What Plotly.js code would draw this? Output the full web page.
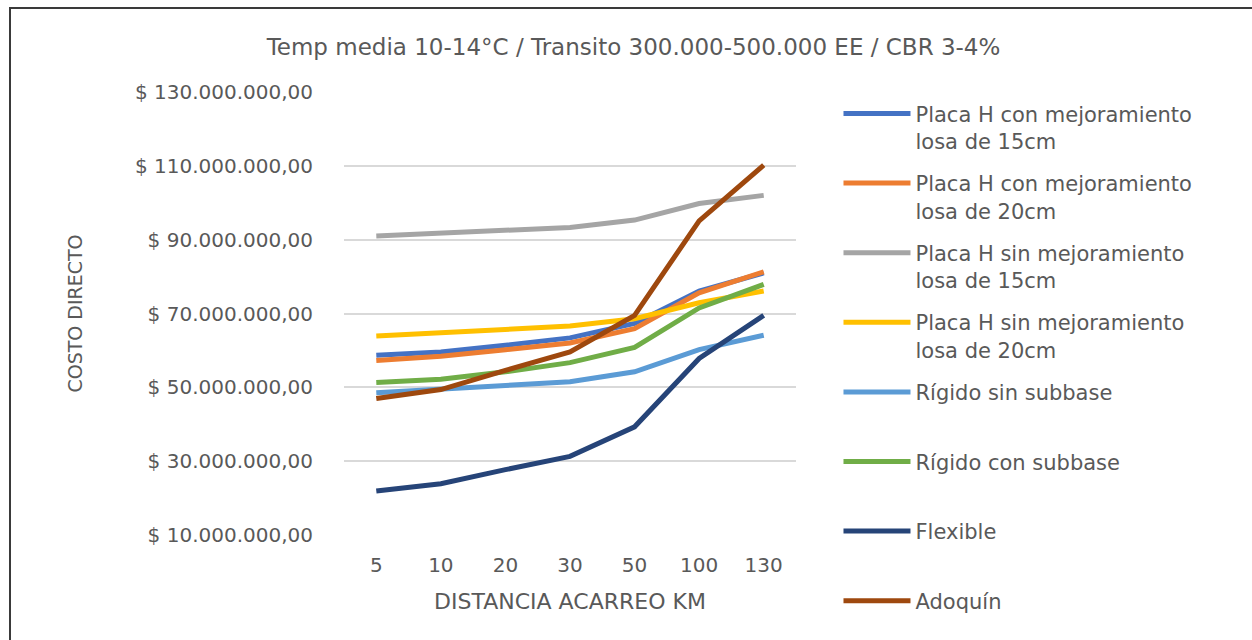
<!DOCTYPE html>
<html>
<head>
<meta charset="utf-8">
<script src="https://cdn.plot.ly/plotly-3.0.1.min.js"></script>
<style>
  html, body { margin: 0; padding: 0; background: #ffffff; }
  #wrap { position: relative; width: 1252px; height: 640px; }
  #chart { position: absolute; left: 0; top: 0; width: 1252px; height: 640px; }
  #frame { position: absolute; left: 9px; top: 7px; right: 0; bottom: 0;
           border-left: 2px solid #3a3a3a; border-top: 2px solid #3a3a3a;
           pointer-events: none; }
</style>
</head>
<body>
<div id="wrap">
  <div id="chart"></div>
  <div id="frame"></div>
</div>
<script>
// ---- data ----
const distances = ['5', '10', '20', '30', '50', '100', '130'];

const placaHCon15   = [58.7e6, 59.6e6, 61.4e6, 63.4e6, 67.3e6, 76.1e6, 81.0e6];
const placaHCon20   = [57.3e6, 58.4e6, 60.2e6, 62.0e6, 65.9e6, 75.6e6, 81.3e6];
const placaHSin15   = [91.0e6, 91.7e6, 92.4e6, 93.3e6, 95.3e6, 99.8e6, 102.0e6];
const placaHSin20   = [63.9e6, 64.8e6, 65.7e6, 66.6e6, 68.6e6, 72.9e6, 76.1e6];
const rigidoSinSub  = [48.5e6, 49.5e6, 50.8e6, 51.5e6, 54.2e6, 60.2e6, 64.1e6];
const rigidoConSub  = [51.3e6, 52.2e6, 54.2e6, 56.7e6, 60.8e6, 71.5e6, 77.9e6];
const flexible      = [21.9e6, 23.9e6, 27.7e6, 31.3e6, 39.3e6, 57.8e6, 69.5e6];
const adoquin       = [47.0e6, 49.4e6, 54.6e6, 59.6e6, 69.5e6, 95.1e6, 110.2e6];

const seriesNames = [
  'Placa H con mejoramiento<br>losa de 15cm',
  'Placa H con mejoramiento<br>losa de 20cm',
  'Placa H sin mejoramiento<br>losa de 15cm',
  'Placa H sin mejoramiento<br>losa de 20cm',
  'Rígido sin subbase<br>&nbsp;',
  'Rígido con subbase<br>&nbsp;',
  'Flexible<br>&nbsp;',
  'Adoquín<br>&nbsp;'
];
const seriesValues = [placaHCon15, placaHCon20, placaHSin15, placaHSin20,
                      rigidoSinSub, rigidoConSub, flexible, adoquin];
const seriesColors = ['#4472C4', '#ED7D31', '#A5A5A5', '#FFC000',
                      '#5B9BD5', '#70AD47', '#264478', '#9E480E'];

const yTickVals = [10e6, 30e6, 50e6, 70e6, 90e6, 110e6, 130e6];
const yTickText = ['$ 10.000.000,00', '$ 30.000.000,00', '$ 50.000.000,00',
                   '$ 70.000.000,00', '$ 90.000.000,00', '$ 110.000.000,00',
                   '$ 130.000.000,00'];

// ---- traces ----
const traces = seriesValues.map((vals, i) => ({
  type: 'scatter',
  mode: 'lines',
  x: distances,
  y: vals,
  name: seriesNames[i],
  legendgroup: 'g' + i,
  line: { color: seriesColors[i], width: 5 },
  hoverinfo: 'x+y+name'
}));

const txt = '#595959';
const fontFam = 'DejaVu Sans, sans-serif';

const layout = {
  width: 1252,
  height: 640,
  paper_bgcolor: '#ffffff',
  plot_bgcolor: '#ffffff',
  margin: { l: 344, r: 456, t: 92, b: 105, autoexpand: false },
  font: { family: fontFam, color: txt, size: 20 },
  title: {
    text: 'Temp media 10-14°C / Transito 300.000-500.000 EE / CBR 3-4%',
    font: { family: fontFam, size: 23, color: txt },
    x: 0.506, xanchor: 'center',
    y: 0.927, yanchor: 'middle'
  },
  xaxis: {
    type: 'category',
    range: [-0.5, 6.5],
    showgrid: false,
    zeroline: false,
    showline: false,
    ticks: '',
    ticklabelstandoff: 16,
    tickfont: { family: fontFam, size: 20, color: txt },
    title: {
      text: 'DISTANCIA ACARREO KM',
      font: { family: fontFam, size: 22, color: txt },
      standoff: 17
    }
  },
  yaxis: {
    range: [10e6, 130e6],
    tickvals: yTickVals,
    ticktext: yTickText,
    showgrid: true,
    gridcolor: '#D9D9D9',
    gridwidth: 1.5,
    zeroline: false,
    showline: false,
    ticks: '',
    ticklabelstandoff: 30,
    tickfont: { family: fontFam, size: 20, color: txt },
    title: {
      text: 'COSTO DIRECTO',
      font: { family: fontFam, size: 19, color: txt },
      standoff: 47
    }
  },
  showlegend: true,
  legend: {
    x: 1.094, xanchor: 'left',
    y: 0.997, yanchor: 'top',
    xref: 'paper', yref: 'paper',
    traceorder: 'grouped',
    tracegroupgap: 12,
    valign: 'top',
    itemwidth: 67,
    maxheight: 1000,
    bgcolor: 'rgba(0,0,0,0)',
    font: { family: fontFam, size: 21, color: txt }
  }
};

Plotly.newPlot('chart', traces, layout, { displayModeBar: false, responsive: false });
</script>
</body>
</html>
